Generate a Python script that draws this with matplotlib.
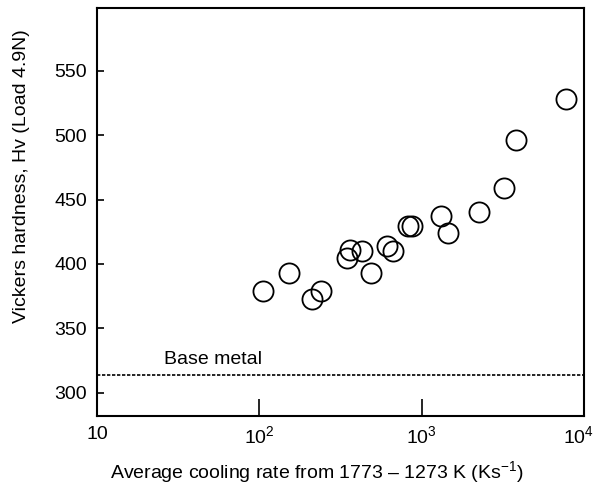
import matplotlib
matplotlib.use('Agg')
import matplotlib.pyplot as plt
import matplotlib.transforms as mtransforms
import numpy as np

# cooling rate (K/s) and hardness (Hv)
rate = [106, 152, 212, 239, 349, 362, 427, 486, 610, 664,
        821, 869, 1318, 1462, 2269, 3234, 3800, 7760]
hv = [379, 393, 373, 379, 405, 411, 410, 393, 414, 410,
      429.5, 429.5, 437, 424, 440, 459, 496, 528]
base_metal = 314
yticks = [300, 350, 400, 450, 500, 550]
xticks = [10, 100, 1000, 10000]
xticklabels = ['10', r'10$^2$', r'10$^3$', r'10$^4$']

plt.rcParams['font.family'] = ['Liberation Sans', 'DejaVu Sans']
plt.rcParams['mathtext.fontset'] = 'custom'
plt.rcParams['mathtext.rm'] = 'Liberation Sans'

fig = plt.figure(figsize=(5.97, 4.88), dpi=100)
ax = fig.add_axes([0.1625, 0.1475, 0.8155, 0.837])

ax.plot(rate, hv, 'o', mfc='none', mec='black', ms=14.5, mew=1.3)
ax.axhline(base_metal, color='black', lw=1.2, ls=(0, (2, 1)))
ax.text(52, base_metal + 5, 'Base metal', ha='center', va='bottom', fontsize=14)

ax.set_xscale('log')
ax.set_xlim(10, 10000)
ax.set_ylim(282, 599)
ax.set_xticks(xticks)
ax.set_xticklabels(xticklabels)
ax.xaxis.set_minor_locator(matplotlib.ticker.NullLocator())
ax.set_yticks(yticks)
ax.tick_params(axis='x', direction='in', length=12, width=1.2, labelsize=14, pad=7)
ax.tick_params(axis='y', direction='in', length=5, width=1.2, labelsize=14, pad=7)
for s in ax.spines.values():
    s.set_linewidth(1.5)

# nudge the 10^4 label so it stays inside the figure
last = ax.get_xticklabels()[-1]
last.set_transform(last.get_transform() + mtransforms.ScaledTranslation(-4 / 72, 0, fig.dpi_scale_trans))

ax.set_xlabel('Average cooling rate from 1773 – 1273 K (Ks$^{-1}$)', fontsize=14, labelpad=8)
ax.set_ylabel('Vickers hardness, Hv (Load 4.9N)', fontsize=14, labelpad=18)
ax.xaxis.label.set_x(0.452)
ax.yaxis.label.set_y(0.588)

fig.savefig('out.png', dpi=100)
